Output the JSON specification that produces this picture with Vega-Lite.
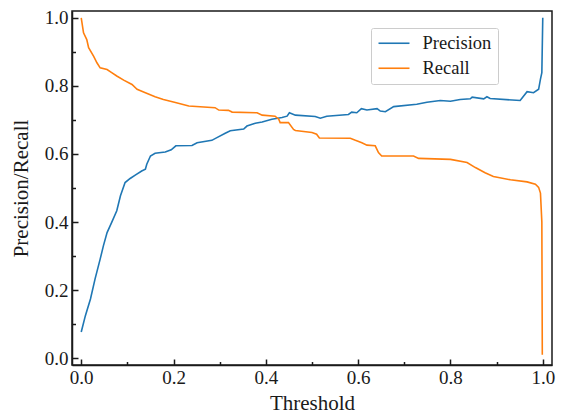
{
  "$schema": "https://vega.github.io/schema/vega-lite/v6.json",
  "width": 480,
  "height": 354,
  "autosize": {"type": "none"},
  "padding": {"left": 72, "top": 11, "right": 14, "bottom": 52},
  "background": "white",
  "config": {
    "font": "Liberation Serif",
    "view": {"stroke": "#1a1a1a", "strokeWidth": 1.5},
    "axis": {"grid": false, "domainColor": "#1a1a1a", "domainWidth": 1.5, "tickColor": "#1a1a1a", "tickWidth": 1.5, "labelColor": "#1a1a1a", "titleColor": "#1a1a1a", "labelFont": "Liberation Serif", "titleFont": "Liberation Serif", "titleFontWeight": "normal"}
  },
  "data": {"values": [
    {"t": 0.000, "v": 0.077, "s": "Precision"},
    {"t": 0.009, "v": 0.125, "s": "Precision"},
    {"t": 0.020, "v": 0.174, "s": "Precision"},
    {"t": 0.030, "v": 0.233, "s": "Precision"},
    {"t": 0.041, "v": 0.291, "s": "Precision"},
    {"t": 0.048, "v": 0.330, "s": "Precision"},
    {"t": 0.056, "v": 0.369, "s": "Precision"},
    {"t": 0.066, "v": 0.399, "s": "Precision"},
    {"t": 0.077, "v": 0.433, "s": "Precision"},
    {"t": 0.085, "v": 0.477, "s": "Precision"},
    {"t": 0.095, "v": 0.516, "s": "Precision"},
    {"t": 0.106, "v": 0.528, "s": "Precision"},
    {"t": 0.117, "v": 0.538, "s": "Precision"},
    {"t": 0.131, "v": 0.550, "s": "Precision"},
    {"t": 0.139, "v": 0.555, "s": "Precision"},
    {"t": 0.142, "v": 0.570, "s": "Precision"},
    {"t": 0.150, "v": 0.594, "s": "Precision"},
    {"t": 0.160, "v": 0.602, "s": "Precision"},
    {"t": 0.182, "v": 0.606, "s": "Precision"},
    {"t": 0.195, "v": 0.612, "s": "Precision"},
    {"t": 0.205, "v": 0.624, "s": "Precision"},
    {"t": 0.240, "v": 0.625, "s": "Precision"},
    {"t": 0.251, "v": 0.633, "s": "Precision"},
    {"t": 0.283, "v": 0.640, "s": "Precision"},
    {"t": 0.294, "v": 0.648, "s": "Precision"},
    {"t": 0.312, "v": 0.661, "s": "Precision"},
    {"t": 0.323, "v": 0.668, "s": "Precision"},
    {"t": 0.352, "v": 0.673, "s": "Precision"},
    {"t": 0.359, "v": 0.682, "s": "Precision"},
    {"t": 0.377, "v": 0.690, "s": "Precision"},
    {"t": 0.392, "v": 0.694, "s": "Precision"},
    {"t": 0.413, "v": 0.702, "s": "Precision"},
    {"t": 0.435, "v": 0.707, "s": "Precision"},
    {"t": 0.446, "v": 0.711, "s": "Precision"},
    {"t": 0.451, "v": 0.721, "s": "Precision"},
    {"t": 0.464, "v": 0.714, "s": "Precision"},
    {"t": 0.507, "v": 0.710, "s": "Precision"},
    {"t": 0.518, "v": 0.705, "s": "Precision"},
    {"t": 0.532, "v": 0.711, "s": "Precision"},
    {"t": 0.579, "v": 0.716, "s": "Precision"},
    {"t": 0.586, "v": 0.723, "s": "Precision"},
    {"t": 0.597, "v": 0.721, "s": "Precision"},
    {"t": 0.607, "v": 0.733, "s": "Precision"},
    {"t": 0.619, "v": 0.729, "s": "Precision"},
    {"t": 0.641, "v": 0.733, "s": "Precision"},
    {"t": 0.648, "v": 0.726, "s": "Precision"},
    {"t": 0.659, "v": 0.724, "s": "Precision"},
    {"t": 0.677, "v": 0.739, "s": "Precision"},
    {"t": 0.727, "v": 0.746, "s": "Precision"},
    {"t": 0.749, "v": 0.752, "s": "Precision"},
    {"t": 0.778, "v": 0.757, "s": "Precision"},
    {"t": 0.800, "v": 0.755, "s": "Precision"},
    {"t": 0.821, "v": 0.760, "s": "Precision"},
    {"t": 0.843, "v": 0.762, "s": "Precision"},
    {"t": 0.847, "v": 0.767, "s": "Precision"},
    {"t": 0.872, "v": 0.762, "s": "Precision"},
    {"t": 0.879, "v": 0.768, "s": "Precision"},
    {"t": 0.886, "v": 0.763, "s": "Precision"},
    {"t": 0.951, "v": 0.757, "s": "Precision"},
    {"t": 0.966, "v": 0.783, "s": "Precision"},
    {"t": 0.980, "v": 0.780, "s": "Precision"},
    {"t": 0.991, "v": 0.790, "s": "Precision"},
    {"t": 0.995, "v": 0.820, "s": "Precision"},
    {"t": 0.998, "v": 0.839, "s": "Precision"},
    {"t": 1.000, "v": 1.000, "s": "Precision"},
    {"t": 0.000, "v": 1.000, "s": "Recall"},
    {"t": 0.005, "v": 0.956, "s": "Recall"},
    {"t": 0.012, "v": 0.936, "s": "Recall"},
    {"t": 0.016, "v": 0.912, "s": "Recall"},
    {"t": 0.027, "v": 0.887, "s": "Recall"},
    {"t": 0.034, "v": 0.868, "s": "Recall"},
    {"t": 0.041, "v": 0.853, "s": "Recall"},
    {"t": 0.056, "v": 0.848, "s": "Recall"},
    {"t": 0.066, "v": 0.839, "s": "Recall"},
    {"t": 0.077, "v": 0.829, "s": "Recall"},
    {"t": 0.092, "v": 0.817, "s": "Recall"},
    {"t": 0.110, "v": 0.804, "s": "Recall"},
    {"t": 0.121, "v": 0.790, "s": "Recall"},
    {"t": 0.139, "v": 0.780, "s": "Recall"},
    {"t": 0.160, "v": 0.768, "s": "Recall"},
    {"t": 0.178, "v": 0.760, "s": "Recall"},
    {"t": 0.204, "v": 0.751, "s": "Recall"},
    {"t": 0.233, "v": 0.741, "s": "Recall"},
    {"t": 0.290, "v": 0.736, "s": "Recall"},
    {"t": 0.298, "v": 0.729, "s": "Recall"},
    {"t": 0.319, "v": 0.728, "s": "Recall"},
    {"t": 0.327, "v": 0.723, "s": "Recall"},
    {"t": 0.381, "v": 0.721, "s": "Recall"},
    {"t": 0.392, "v": 0.714, "s": "Recall"},
    {"t": 0.420, "v": 0.711, "s": "Recall"},
    {"t": 0.428, "v": 0.702, "s": "Recall"},
    {"t": 0.431, "v": 0.692, "s": "Recall"},
    {"t": 0.449, "v": 0.692, "s": "Recall"},
    {"t": 0.460, "v": 0.672, "s": "Recall"},
    {"t": 0.464, "v": 0.669, "s": "Recall"},
    {"t": 0.500, "v": 0.663, "s": "Recall"},
    {"t": 0.510, "v": 0.658, "s": "Recall"},
    {"t": 0.516, "v": 0.647, "s": "Recall"},
    {"t": 0.583, "v": 0.646, "s": "Recall"},
    {"t": 0.594, "v": 0.640, "s": "Recall"},
    {"t": 0.608, "v": 0.633, "s": "Recall"},
    {"t": 0.619, "v": 0.626, "s": "Recall"},
    {"t": 0.637, "v": 0.624, "s": "Recall"},
    {"t": 0.644, "v": 0.604, "s": "Recall"},
    {"t": 0.651, "v": 0.594, "s": "Recall"},
    {"t": 0.720, "v": 0.594, "s": "Recall"},
    {"t": 0.731, "v": 0.587, "s": "Recall"},
    {"t": 0.800, "v": 0.584, "s": "Recall"},
    {"t": 0.836, "v": 0.575, "s": "Recall"},
    {"t": 0.854, "v": 0.560, "s": "Recall"},
    {"t": 0.875, "v": 0.545, "s": "Recall"},
    {"t": 0.893, "v": 0.534, "s": "Recall"},
    {"t": 0.930, "v": 0.524, "s": "Recall"},
    {"t": 0.966, "v": 0.518, "s": "Recall"},
    {"t": 0.984, "v": 0.511, "s": "Recall"},
    {"t": 0.991, "v": 0.502, "s": "Recall"},
    {"t": 0.995, "v": 0.485, "s": "Recall"},
    {"t": 0.998, "v": 0.400, "s": "Recall"},
    {"t": 0.999, "v": 0.010, "s": "Recall"}
  ]},
  "layer": [
    {
      "mark": {"type": "line", "opacity": 0},
      "encoding": {
        "x": {"field": "t", "type": "quantitative", "scale": {"domain": [-0.02, 1.02], "nice": false, "zero": false},
          "axis": {"orient": "bottom", "values": [0.1, 0.3, 0.5, 0.7, 0.9], "labels": false, "domain": false, "tickSize": -3.5, "title": null}},
        "y": {"field": "v", "type": "quantitative", "scale": {"domain": [-0.02, 1.02], "nice": false, "zero": false},
          "axis": {"orient": "left", "values": [0.1, 0.3, 0.5, 0.7, 0.9], "labels": false, "domain": false, "tickSize": -3.5, "title": null}},
        "detail": {"field": "s"}
      }
    },
    {
      "mark": {"type": "line", "strokeWidth": 1.6, "interpolate": "linear"},
      "encoding": {
        "x": {"field": "t", "type": "quantitative", "scale": {"domain": [-0.02, 1.02], "nice": false, "zero": false},
          "axis": {"orient": "bottom", "values": [0, 0.2, 0.4, 0.6, 0.8, 1.0], "format": ".1f", "tickSize": -6, "labelFont": "Liberation Serif", "labelFontSize": 19, "labelPadding": 9, "title": "Threshold", "titleFont": "Liberation Serif", "titleFontSize": 21, "titleFontWeight": "normal", "titlePadding": 5}},
        "y": {"field": "v", "type": "quantitative", "scale": {"domain": [-0.02, 1.02], "nice": false, "zero": false},
          "axis": {"orient": "left", "values": [0, 0.2, 0.4, 0.6, 0.8, 1.0], "format": ".1f", "tickSize": -6, "labelFont": "Liberation Serif", "labelFontSize": 19, "labelPadding": 10, "title": "Precision/Recall", "titleFont": "Liberation Serif", "titleFontSize": 21, "titleFontWeight": "normal", "titlePadding": 13}},
        "color": {"field": "s", "type": "nominal", "scale": {"domain": ["Precision", "Recall"], "range": ["#1f77b4", "#ff7f0e"]},
          "legend": {"title": null, "orient": "none", "legendX": 299, "legendY": 17, "fillColor": "white", "strokeColor": "#cccccc", "padding": 6, "cornerRadius": 2,
            "symbolType": "M-1,0H3", "symbolSize": 240, "symbolStrokeWidth": 1.6, "labelOffset": 27, "labelFontSize": 18.5, "labelFont": "Liberation Serif", "labelColor": "#1a1a1a", "rowPadding": 6}}
      }
    }
  ],
  "resolve": {"axis": {"x": "independent", "y": "independent"}}
}
